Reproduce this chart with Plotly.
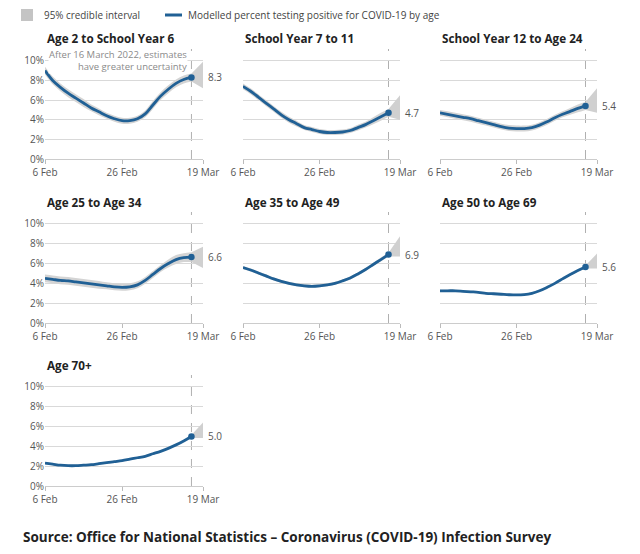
import plotly.graph_objects as go

# ---------------- data ----------------
DATES = ["2022-02-06", "2022-02-08", "2022-02-10", "2022-02-12", "2022-02-14",
         "2022-02-16", "2022-02-18", "2022-02-20", "2022-02-22", "2022-02-24",
         "2022-02-26", "2022-02-28", "2022-03-02", "2022-03-04", "2022-03-06",
         "2022-03-08", "2022-03-10", "2022-03-12", "2022-03-14", "2022-03-16"]
FAN_DATES = ["2022-03-16", "2022-03-19"]

TITLES = ["Age 2 to School Year 6", "School Year 7 to 11", "School Year 12 to Age 24",
          "Age 25 to Age 34", "Age 35 to Age 49", "Age 50 to Age 69", "Age 70+"]
END_LABELS = ["8.3", "4.7", "5.4", "6.6", "6.9", "5.6", "5.0"]

age_2_sy6 = [9.0, 8.0, 7.3, 6.7, 6.2, 5.7, 5.2, 4.8, 4.4, 4.1, 3.9, 3.9, 4.1, 4.6, 5.5, 6.4, 7.1, 7.7, 8.1, 8.3]
age_2_sy6_lo = [8.6, 7.6, 6.9, 6.3, 5.8, 5.3, 4.85, 4.45, 4.1, 3.8, 3.6, 3.6, 3.8, 4.25, 5.1, 6.0, 6.7, 7.3, 7.7, 7.9]
age_2_sy6_hi = [9.4, 8.4, 7.7, 7.1, 6.6, 6.1, 5.55, 5.15, 4.7, 4.4, 4.2, 4.2, 4.4, 4.95, 5.9, 6.8, 7.5, 8.1, 8.5, 8.7]
age_2_sy6_fan_lo = [7.9, 7.2]
age_2_sy6_fan_hi = [8.7, 9.9]

sy7_11 = [7.4, 6.9, 6.3, 5.7, 5.1, 4.5, 4.0, 3.6, 3.2, 3.0, 2.8, 2.7, 2.7, 2.75, 2.9, 3.2, 3.5, 3.9, 4.3, 4.7]
sy7_11_lo = [7.1, 6.6, 6.0, 5.4, 4.8, 4.2, 3.7, 3.3, 2.95, 2.75, 2.55, 2.45, 2.45, 2.5, 2.65, 2.9, 3.2, 3.55, 3.9, 4.3]
sy7_11_hi = [7.7, 7.2, 6.6, 6.0, 5.4, 4.8, 4.3, 3.9, 3.45, 3.25, 3.05, 2.95, 2.95, 3.0, 3.15, 3.5, 3.8, 4.25, 4.7, 5.1]
sy7_11_fan_lo = [4.3, 4.0]
sy7_11_fan_hi = [5.1, 6.5]

sy12_24 = [4.7, 4.55, 4.4, 4.25, 4.1, 3.9, 3.7, 3.5, 3.3, 3.15, 3.1, 3.1, 3.2, 3.45, 3.8, 4.2, 4.55, 4.85, 5.15, 5.4]
sy12_24_lo = [4.4, 4.25, 4.1, 3.95, 3.8, 3.6, 3.4, 3.2, 3.0, 2.85, 2.8, 2.8, 2.9, 3.15, 3.5, 3.9, 4.25, 4.5, 4.75, 5.0]
sy12_24_hi = [5.0, 4.85, 4.7, 4.55, 4.4, 4.2, 4.0, 3.8, 3.6, 3.45, 3.4, 3.4, 3.5, 3.75, 4.1, 4.5, 4.85, 5.2, 5.55, 5.8]
sy12_24_fan_lo = [5.0, 4.7]
sy12_24_fan_hi = [5.8, 7.2]

age_25_34 = [4.5, 4.4, 4.3, 4.25, 4.15, 4.05, 3.95, 3.85, 3.75, 3.65, 3.6, 3.65, 3.85, 4.3, 4.9, 5.5, 6.0, 6.4, 6.6, 6.65]
age_25_34_lo = [4.1, 4.0, 3.9, 3.85, 3.75, 3.65, 3.55, 3.45, 3.4, 3.3, 3.25, 3.3, 3.5, 3.95, 4.55, 5.15, 5.6, 5.95, 6.15, 6.15]
age_25_34_hi = [4.9, 4.8, 4.7, 4.65, 4.55, 4.45, 4.35, 4.25, 4.1, 4.0, 3.95, 4.0, 4.2, 4.65, 5.25, 5.85, 6.4, 6.85, 7.05, 7.15]
age_25_34_fan_lo = [6.15, 5.55]
age_25_34_fan_hi = [7.15, 7.7]

age_35_49 = [5.6, 5.35, 5.05, 4.75, 4.45, 4.2, 4.0, 3.85, 3.75, 3.7, 3.75, 3.85, 4.0, 4.25, 4.55, 4.95, 5.4, 5.9, 6.4, 6.9]
age_35_49_lo = [5.45, 5.2, 4.9, 4.6, 4.3, 4.05, 3.85, 3.7, 3.6, 3.55, 3.6, 3.7, 3.85, 4.1, 4.4, 4.8, 5.25, 5.75, 6.2, 6.7]
age_35_49_hi = [5.75, 5.5, 5.2, 4.9, 4.6, 4.35, 4.15, 4.0, 3.9, 3.85, 3.9, 4.0, 4.15, 4.4, 4.7, 5.1, 5.55, 6.05, 6.6, 7.1]
age_35_49_fan_lo = [6.7, 6.7]
age_35_49_fan_hi = [7.1, 8.75]

age_50_69 = [3.25, 3.25, 3.25, 3.2, 3.15, 3.1, 3.0, 2.95, 2.9, 2.85, 2.83, 2.87, 3.0, 3.25, 3.6, 4.0, 4.45, 4.9, 5.3, 5.65]
age_50_69_lo = [3.15, 3.15, 3.15, 3.1, 3.05, 3.0, 2.9, 2.85, 2.8, 2.75, 2.73, 2.77, 2.9, 3.15, 3.5, 3.9, 4.35, 4.8, 5.2, 5.5]
age_50_69_hi = [3.35, 3.35, 3.35, 3.3, 3.25, 3.2, 3.1, 3.05, 3.0, 2.95, 2.93, 2.97, 3.1, 3.35, 3.7, 4.1, 4.55, 5.0, 5.4, 5.8]
age_50_69_fan_lo = [5.5, 5.5]
age_50_69_fan_hi = [5.8, 7.0]

age_70 = [2.3, 2.2, 2.1, 2.05, 2.05, 2.1, 2.15, 2.25, 2.35, 2.45, 2.55, 2.7, 2.85, 3.0, 3.25, 3.5, 3.8, 4.15, 4.55, 5.0]
age_70_lo = [2.2, 2.1, 2.0, 1.95, 1.95, 2.0, 2.05, 2.15, 2.25, 2.35, 2.45, 2.6, 2.75, 2.9, 3.15, 3.4, 3.7, 4.05, 4.45, 4.85]
age_70_hi = [2.4, 2.3, 2.2, 2.15, 2.15, 2.2, 2.25, 2.35, 2.45, 2.55, 2.65, 2.8, 2.95, 3.1, 3.35, 3.6, 3.9, 4.25, 4.65, 5.15]
age_70_fan_lo = [4.85, 4.85]
age_70_fan_hi = [5.15, 6.4]

SERIES = [
    (age_2_sy6, age_2_sy6_lo, age_2_sy6_hi, age_2_sy6_fan_lo, age_2_sy6_fan_hi),
    (sy7_11, sy7_11_lo, sy7_11_hi, sy7_11_fan_lo, sy7_11_fan_hi),
    (sy12_24, sy12_24_lo, sy12_24_hi, sy12_24_fan_lo, sy12_24_fan_hi),
    (age_25_34, age_25_34_lo, age_25_34_hi, age_25_34_fan_lo, age_25_34_fan_hi),
    (age_35_49, age_35_49_lo, age_35_49_hi, age_35_49_fan_lo, age_35_49_fan_hi),
    (age_50_69, age_50_69_lo, age_50_69_hi, age_50_69_fan_lo, age_50_69_fan_hi),
    (age_70, age_70_lo, age_70_hi, age_70_fan_lo, age_70_fan_hi),
]

Y_TICKS = [0, 2, 4, 6, 8, 10]
Y_TICK_TEXT = ["0%", "2%", "4%", "6%", "8%", "10%"]
X_TICKS = ["2022-02-06", "2022-02-26", "2022-03-19"]
X_TICK_TEXT = ["6 Feb", "26 Feb", "19 Mar"]
UNCERTAIN_FROM = "2022-03-16"

# ---------------- layout helpers ----------------
W, H = 640, 554
PAGE_MARGIN = 8  # default browser body margin that shifts the figure on the page
FONT = "Open Sans"
BLUE = "#206095"
BAND = "#d4d4d4"
FAN = "#d0d0d0"
GRID = "#d9d9d9"
TXT = "#555555"


def fx(p):
    return (p - PAGE_MARGIN) / W


def fy(p):
    return 1 - (p - PAGE_MARGIN) / H


COLS = [(45, 203), (243, 400), (440, 597)]
ROWS = [(49, 159), (212, 323), (375, 486)]
TITLE_Y = [38, 201.5, 365]

fig = go.Figure()
annotations = []
shapes = []

for i, (line, lo, hi, flo, fhi) in enumerate(SERIES):
    r, c = divmod(i, 3)
    n = i + 1
    xa = "x" if n == 1 else f"x{n}"
    ya = "y" if n == 1 else f"y{n}"
    # band
    fig.add_trace(go.Scatter(x=DATES, y=lo, xaxis=xa, yaxis=ya, mode="lines",
                             line=dict(width=0, shape="spline", color=BAND),
                             hoverinfo="skip", showlegend=False))
    fig.add_trace(go.Scatter(x=DATES, y=hi, xaxis=xa, yaxis=ya, mode="lines",
                             line=dict(width=0, shape="spline", color=BAND),
                             fill="tonexty", fillcolor=BAND,
                             hoverinfo="skip", showlegend=False))
    # fan
    fig.add_trace(go.Scatter(x=FAN_DATES + FAN_DATES[::-1], y=flo + fhi[::-1],
                             xaxis=xa, yaxis=ya, mode="lines",
                             line=dict(width=0, color=FAN), fill="toself", fillcolor=FAN,
                             hoverinfo="skip", showlegend=False))
    # line
    fig.add_trace(go.Scatter(x=DATES, y=line, xaxis=xa, yaxis=ya, mode="lines",
                             line=dict(width=2.8, shape="spline", color=BLUE),
                             showlegend=False))
    fig.add_trace(go.Scatter(x=DATES[-1:], y=line[-1:], xaxis=xa, yaxis=ya, mode="markers",
                             marker=dict(size=6.5, color=BLUE), showlegend=False))

    x0, x1 = COLS[c]
    y0, y1 = ROWS[r]
    xkey = "xaxis" if n == 1 else f"xaxis{n}"
    ykey = "yaxis" if n == 1 else f"yaxis{n}"
    fig.update_layout({
        xkey: dict(domain=[fx(x0), fx(x1)], anchor=ya, type="date", automargin=False,
                   range=[X_TICKS[0], X_TICKS[-1]], tickmode="array",
                   tickvals=X_TICKS, ticktext=X_TICK_TEXT, showgrid=False,
                   ticks="outside", ticklen=4, tickcolor="#bbbbbb",
                   showline=True, linecolor="#cccccc", linewidth=1,
                   tickfont=dict(family=FONT, size=10, color=TXT), fixedrange=True),
        ykey: dict(domain=[fy(y1), fy(y0)], anchor=xa, range=[0, 11.2], automargin=False,
                   tickmode="array", tickvals=Y_TICKS, ticktext=Y_TICK_TEXT,
                   showgrid=True, gridcolor=GRID, gridwidth=1, zeroline=False,
                   showline=False, ticks="", showticklabels=(c == 0),
                   tickfont=dict(family=FONT, size=10, color=TXT), fixedrange=True),
    })
    # dashed vertical line at 16 March
    shapes.append(dict(type="line", xref=xa, yref=f"{ya} domain",
                       x0=UNCERTAIN_FROM, x1=UNCERTAIN_FROM, y0=0, y1=1,
                       line=dict(color="#b0b0b0", width=1, dash="dash"), layer="below"))
    # title
    annotations.append(dict(xref="paper", yref="paper", x=fx(x0), y=fy(TITLE_Y[r]),
                            xanchor="left", yanchor="middle", showarrow=False,
                            text=f"<b>{TITLES[i]}</b>",
                            font=dict(family=FONT, size=11.7, color="#222222")))
    # end label
    annotations.append(dict(xref=xa, yref=ya, x=X_TICKS[-1], y=line[-1],
                            xanchor="left", yanchor="middle", xshift=3, showarrow=False,
                            text=END_LABELS[i], font=dict(family=FONT, size=10, color=TXT)))

# note in first panel
annotations.append(dict(xref="paper", yref="paper", x=fx(188), y=fy(60.5),
                        xanchor="right", yanchor="middle", showarrow=False, align="right",
                        bgcolor="white", borderpad=0,
                        text="After 16 March 2022, estimates<br>have greater uncertainty",
                        font=dict(family=FONT, size=9.5, color="#8a8a8a")))

# legend
shapes.append(dict(type="rect", xref="paper", yref="paper",
                   x0=fx(21), x1=fx(33), y0=fy(21), y1=fy(9),
                   fillcolor="#c4c4c4", line=dict(width=0)))
annotations.append(dict(xref="paper", yref="paper", x=fx(42), y=fy(15),
                        xanchor="left", yanchor="middle", showarrow=False,
                        text="95% credible interval",
                        font=dict(family=FONT, size=9.9, color="#444444")))
shapes.append(dict(type="line", xref="paper", yref="paper",
                   x0=fx(165), x1=fx(182), y0=fy(15), y1=fy(15),
                   line=dict(color=BLUE, width=3)))
annotations.append(dict(xref="paper", yref="paper", x=fx(186), y=fy(15),
                        xanchor="left", yanchor="middle", showarrow=False,
                        text="Modelled percent testing positive for COVID-19 by age",
                        font=dict(family=FONT, size=10, color="#444444")))

# source
annotations.append(dict(xref="paper", yref="paper", x=fx(21), y=fy(537),
                        xanchor="left", yanchor="middle", showarrow=False,
                        text="<b>Source: Office for National Statistics – Coronavirus (COVID-19) Infection Survey</b>",
                        font=dict(family=FONT, size=13.5, color="#222222")))

fig.update_layout(width=W, height=H, margin=dict(l=0, r=0, t=0, b=0),
                  paper_bgcolor="white", plot_bgcolor="white", showlegend=False,
                  annotations=annotations, shapes=shapes)

fig.write_html("out.html")
